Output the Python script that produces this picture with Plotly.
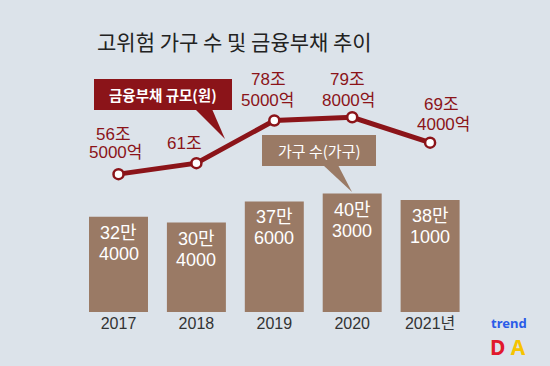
import plotly.graph_objects as go

# ---- data ----
years = ["2017", "2018", "2019", "2020", "2021년"]
households = [324000, 304000, 376000, 403000, 381000]      # 가구
debt_eok = [565000, 610000, 785000, 798000, 694000]         # 억원

# derived labels
hh_man = [v / 10000 for v in households]
debt_jo = [v / 10000 for v in debt_eok]
hh_l1 = [f"{v // 10000}만" for v in households]
hh_l2 = [f"{v % 10000}" if v % 10000 else "" for v in households]
dt_l1 = [f"{v // 10000}조" for v in debt_eok]
dt_l2 = [f"{v % 10000}억" if v % 10000 else "" for v in debt_eok]

# ---- style ----
BG = "#dce3ea"
BROWN = "#9a7a65"
RED = "#8b1419"
NUM = "Liberation Sans Narrow, Liberation Sans, Noto Sans CJK KR, sans-serif"
KR = "Noto Sans CJK KR, sans-serif"

W, H = 550, 366
PLOT_BOTTOM = 312.0

def px(x):
    return x / W

def py(y):
    return (PLOT_BOTTOM - y) / PLOT_BOTTOM

xs = list(range(len(years)))

fig = go.Figure()
fig.add_trace(go.Bar(x=xs, y=hh_man, marker=dict(color=BROWN, line=dict(width=0)),
                     width=0.757, hoverinfo="skip", yaxis="y"))
fig.add_trace(go.Scatter(x=xs, y=debt_jo, mode="lines+markers", yaxis="y2",
                         line=dict(color=RED, width=5),
                         marker=dict(size=10, color="white", line=dict(color=RED, width=2.5)),
                         hoverinfo="skip"))

ann = []
C = dict(xanchor="center", yanchor="middle", showarrow=False)
# bar labels
for i in xs:
    ann.append(dict(x=i, y=hh_man[i], xref="x", yref="y", text=hh_l1[i], yshift=-16,
                    font=dict(family=NUM, size=18, color="white"), **C))
    if hh_l2[i]:
        ann.append(dict(x=i, y=hh_man[i], xref="x", yref="y", text=hh_l2[i], yshift=-37,
                        font=dict(family=NUM, size=18, color="white"), **C))

# line labels (offsets in px)
l1_off = [(-5, 39.6), (-12, 20), (-6, 41), (-5, 38), (11, 38)]
l2_off = [(-3, 21.6), (0, 0), (-7, 20), (-4, 17), (13, 18)]
for i in xs:
    ann.append(dict(x=i, y=debt_jo[i], xref="x", yref="y2", text=dt_l1[i],
                    xshift=l1_off[i][0], yshift=l1_off[i][1],
                    font=dict(family=NUM, size=17, color=RED), **C))
    if dt_l2[i]:
        ann.append(dict(x=i, y=debt_jo[i], xref="x", yref="y2", text=dt_l2[i],
                        xshift=l2_off[i][0], yshift=l2_off[i][1],
                        font=dict(family=NUM, size=17, color=RED), **C))

# title
ann.append(dict(x=px(95), y=py(41.5), xref="paper", yref="paper", xanchor="left", yanchor="middle",
                text="고위험 가구 수 및 금융부채 추이", showarrow=False,
                font=dict(family=KR, size=21, color="#222222")))

# callout texts
ann.append(dict(x=px(163), y=py(94.5), xref="paper", yref="paper", text="금융부채 규모(원)",
                font=dict(family=KR, size=14.5, color="white", weight="bold"), **C))
ann.append(dict(x=px(319), y=py(150.5), xref="paper", yref="paper", text="가구 수(가구)",
                font=dict(family=KR, size=15, color="white"), **C))

# logo
LOGO = dict(xanchor="center", yanchor="middle", showarrow=False, borderpad=0)
ann.append(dict(x=px(509), y=py(322.5), xref="paper", yref="paper", text="trend",
                font=dict(family="Noto Sans, sans-serif", size=13, color="#2b5ce8", weight="bold"), **LOGO))
ann.append(dict(x=px(508), y=py(347), xref="paper", yref="paper",
                text="<span style='color:#e1192d'>D</span> <span style='color:#f6c400'>A</span>",
                font=dict(family="Noto Sans, sans-serif", size=21, color="#e1192d", weight="bold"), **LOGO))

def poly(pts):
    return "M " + " L ".join(f"{px(x)},{py(y)}" for x, y in pts) + " Z"

shapes = [
    dict(type="rect", xref="paper", yref="paper", x0=px(94), x1=px(232), y0=py(110), y1=py(79),
         fillcolor=RED, line=dict(width=0), layer="above"),
    dict(type="path", xref="paper", yref="paper", path=poly([(195, 109), (225, 139), (212, 109)]),
         fillcolor=RED, line=dict(width=0), layer="above"),
    dict(type="rect", xref="paper", yref="paper", x0=px(262), x1=px(376), y0=py(166), y1=py(135),
         fillcolor=BROWN, line=dict(width=0), layer="above"),
    dict(type="path", xref="paper", yref="paper", path=poly([(323, 165), (352, 192), (338, 165)]),
         fillcolor=BROWN, line=dict(width=0), layer="above"),
]

ppx = 77.9
x0 = -118.5 / ppx
fig.update_layout(
    width=W, height=H, paper_bgcolor=BG, plot_bgcolor=BG,
    margin=dict(l=0, r=0, t=0, b=H - PLOT_BOTTOM),
    showlegend=False, annotations=ann, shapes=shapes,
    xaxis=dict(range=[x0, x0 + W / ppx], tickmode="array", tickvals=xs, ticktext=years,
               showgrid=False, zeroline=False, showline=False, ticks="",
               tickfont=dict(family=NUM, size=16, color="#333333"), fixedrange=True),
    yaxis=dict(range=[0, PLOT_BOTTOM / 2.94], visible=False, fixedrange=True),
    yaxis2=dict(range=[0, PLOT_BOTTOM / 2.44], visible=False, overlaying="y", fixedrange=True),
)

fig.write_html("out.html", config={"displayModeBar": False},
               post_script="document.body.style.margin='0px';document.body.style.background='" + BG + "';")
